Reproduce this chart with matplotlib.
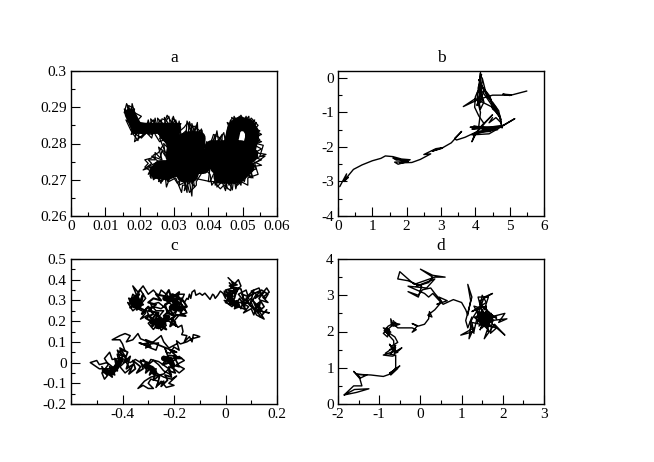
#!/usr/bin/python3
# -*- coding: utf-8 -*-
"""
Four panels of 2D trajectories (a, b, c, d), values read off the picture.
"""
import matplotlib
matplotlib.use('Agg')
import matplotlib.pyplot as plt
from matplotlib.ticker import MultipleLocator

titles = ['a', 'b', 'c', 'd']

# panel a: dense middle of the cloud, then the fuzz around it
a_lobe = [(0.0172,0.2882),(0.0182,0.2862),(0.019,0.2848),(0.0192,0.2842)]
a_neck = [(0.0192,0.2842),(0.0215,0.2842),(0.0245,0.2842),(0.0305,0.2842),(0.0295,0.2815),(0.0272,0.2825),(0.030,0.280)]
a_mass = [(0.030,0.280),(0.0345,0.2815),(0.0372,0.2815),(0.037,0.279),(0.030,0.279),(0.0295,0.2765),(0.040,0.2765),(0.0385,0.2735),
          (0.026,0.2735),(0.0248,0.2722),(0.028,0.2718),(0.032,0.2735),(0.0328,0.2712),(0.035,0.2712),(0.036,0.274),(0.041,0.275),
          (0.041,0.279),(0.0495,0.279),(0.0525,0.2768),(0.0415,0.2765),(0.0425,0.2735),(0.0515,0.2735),(0.0485,0.2708),(0.0435,0.2708),
          (0.045,0.2745),(0.0505,0.276),(0.052,0.279),(0.0527,0.2815),(0.0527,0.2832),(0.0515,0.285),(0.0492,0.2855),(0.0475,0.2842),
          (0.047,0.282),(0.0462,0.279)]
a_fuzz = [(0.0155,0.2895),(0.017,0.2875),(0.0155,0.2885),(0.0162,0.291),(0.0175,0.2885),(0.0178,0.291),(0.0185,0.2885),
          (0.0205,0.2875),(0.019,0.286),(0.0215,0.2855),(0.020,0.284),(0.022,0.2835),(0.0205,0.282),(0.0185,0.2805),
          (0.019,0.283),(0.0175,0.2825),(0.0185,0.285),(0.016,0.2865),(0.0175,0.2835),(0.0205,0.2815),(0.022,0.283),
          (0.0235,0.2815),(0.024,0.2835),(0.0225,0.285),(0.024,0.2865),(0.025,0.2845),(0.026,0.2865),(0.027,0.285),
          (0.0285,0.2875),(0.029,0.285),(0.0305,0.2865),(0.031,0.2845),(0.032,0.2855),(0.0305,0.283),(0.032,0.2825),
          (0.0305,0.281),(0.0335,0.2835),(0.034,0.2815),(0.0345,0.286),(0.0355,0.283),(0.0365,0.285),(0.037,0.2825),
          (0.038,0.284),(0.0385,0.281),(0.0395,0.2785),(0.0375,0.2795),(0.039,0.2765),(0.041,0.281),(0.0415,0.2785),
          (0.0425,0.2835),(0.043,0.2805),(0.0445,0.283),(0.045,0.2805),(0.0455,0.2835),(0.0465,0.2865),(0.047,0.2845),
          (0.0475,0.2875),(0.0485,0.2855),(0.049,0.2875),(0.050,0.285),(0.051,0.2875),(0.0515,0.285),(0.0535,0.2865),
          (0.0525,0.2845),(0.055,0.2835),(0.0535,0.2825),(0.055,0.281),(0.0535,0.2795),(0.0555,0.2785),(0.0535,0.2775),
          (0.0568,0.277),(0.054,0.276),(0.0555,0.2755),(0.053,0.2745),(0.054,0.273),(0.0525,0.2725),(0.0525,0.2705),
          (0.051,0.2715),(0.0505,0.2695),(0.049,0.271),(0.048,0.2675),(0.0475,0.2705),(0.046,0.2685),(0.0455,0.2705),
          (0.045,0.267),(0.044,0.2695),(0.0425,0.268),(0.0425,0.2705),(0.041,0.2685),(0.0405,0.2715),(0.0395,0.2725),
          (0.039,0.2735),(0.0375,0.272),(0.037,0.2735),(0.0365,0.2705),(0.0355,0.2715),(0.0352,0.2655),(0.0345,0.2695),
          (0.033,0.267),(0.0335,0.2695),(0.0315,0.2685),(0.032,0.2715),(0.031,0.2725),(0.030,0.271),(0.0295,0.2725),
          (0.0278,0.268),(0.0275,0.2705),(0.0255,0.2695),(0.026,0.2715),(0.024,0.270),(0.0245,0.2725),(0.0225,0.2715),
          (0.0235,0.2735),(0.021,0.2727),(0.0235,0.2745),(0.0225,0.2755),(0.0245,0.2755),(0.0245,0.2775),(0.026,0.276),
          (0.0265,0.278),(0.0275,0.2765),(0.027,0.280),(0.0285,0.2785),(0.0265,0.2825),(0.0285,0.2815),(0.0258,0.2805),
          (0.0245,0.2825)]
a_fuzz2 = [(0.0163,0.2905),(0.0172,0.2875),(0.0168,0.2905),(0.0185,0.2895),(0.018,0.287),(0.0198,0.2855),(0.0165,0.2875),(0.0172,0.285),
           (0.0182,0.2825),(0.0195,0.2808),(0.0198,0.283),(0.0215,0.2825),(0.0225,0.2865),(0.0235,0.2825),(0.0245,0.287),(0.0255,0.2825),
           (0.0265,0.2868),(0.0275,0.2865),(0.028,0.2878),(0.0295,0.2855),(0.0295,0.287),(0.031,0.2855),(0.0318,0.2835),(0.033,0.2845),
           (0.034,0.2858),(0.0348,0.284),(0.0358,0.2848),(0.0375,0.2835),(0.037,0.2815),(0.039,0.2775),(0.0395,0.2805),(0.0405,0.2795),
           (0.0415,0.2825),(0.0435,0.2815),(0.0445,0.2795),(0.0455,0.282),(0.0462,0.2855),(0.048,0.287),(0.0482,0.284),(0.050,0.2872),
           (0.0508,0.2845),(0.0525,0.287),(0.0545,0.285),(0.0525,0.283),(0.0548,0.2825),(0.054,0.280),(0.056,0.2795),(0.055,0.2765),
           (0.0565,0.2765),(0.0535,0.2745),(0.0545,0.2715),(0.0515,0.2705),(0.0515,0.2685),(0.0495,0.2695),(0.0485,0.2685),(0.0468,0.2695),
           (0.0465,0.267),(0.0445,0.2685),(0.0435,0.2675),(0.0415,0.2695),(0.040,0.2695),(0.0405,0.2735),(0.0385,0.2725),(0.0365,0.2695),
           (0.0365,0.2685),(0.0345,0.2665),(0.034,0.2685),(0.0325,0.2685),(0.0322,0.2665),(0.0305,0.2705),(0.0285,0.2695),(0.028,0.2715),
           (0.0265,0.2695),(0.025,0.2705),(0.0232,0.2705),(0.023,0.2725),(0.0215,0.2735),(0.0225,0.2745),(0.0215,0.2755),(0.0235,0.276),
           (0.024,0.2768),(0.0255,0.2775),(0.0268,0.2795)]
# spikes from inside the cloud out past its edge
a_fuzz3 = [(0.0235,0.2845),(0.0232,0.2868),(0.0255,0.2845),(0.0252,0.287),(0.0275,0.2845),(0.0272,0.2872),(0.029,0.2845),(0.0298,0.2875),
           (0.031,0.284),(0.0315,0.2862),(0.032,0.2825),(0.0335,0.2825),(0.0338,0.2862),(0.035,0.283),(0.0352,0.2855),(0.036,0.283),(0.0368,0.2858),
           (0.037,0.282),(0.0382,0.2835),(0.0375,0.281),(0.0388,0.2815),(0.038,0.279),(0.041,0.2795),(0.042,0.2825),(0.042,0.2795),(0.044,0.2825),
           (0.044,0.2795),(0.046,0.2825),(0.0465,0.2835),(0.0455,0.2858),(0.047,0.285),(0.0468,0.2872),(0.0485,0.286),(0.0495,0.2878),(0.0505,0.286),
           (0.0518,0.2875),(0.052,0.285),(0.054,0.2858),(0.053,0.284),(0.0555,0.2825),(0.053,0.2815),(0.0555,0.2805),(0.0525,0.2795),(0.0545,0.2775),
           (0.052,0.2755),(0.0555,0.274),(0.052,0.2735),(0.053,0.2705),(0.050,0.2725),(0.0495,0.2685),(0.0475,0.2715),(0.047,0.2672),(0.045,0.2715),
           (0.0455,0.2675),(0.0435,0.2715),(0.042,0.2685),(0.042,0.2725),(0.0405,0.2695),(0.0355,0.2705),(0.036,0.268),(0.034,0.2705),(0.0338,0.2665),
           (0.0325,0.271),(0.031,0.269),(0.029,0.272),(0.0282,0.2695),(0.027,0.2715),(0.0262,0.269),(0.025,0.2715),(0.023,0.271),(0.0245,0.2735),
           (0.0222,0.2735),(0.0255,0.275),(0.0235,0.2765),(0.0265,0.2755),(0.0255,0.279),(0.0275,0.2775),(0.0258,0.2815),(0.028,0.2815),(0.0255,0.283),
           (0.0225,0.2825),(0.024,0.2848)]

# panel b: almost a single stroke with short reversals
b_path = [(0.05,-3.15),(0.12,-3.02),(0.25,-2.78),(0.18,-3.0),(0.3,-2.88),(0.2,-2.95),(0.45,-2.65),(0.7,-2.52),(1.0,-2.4),
          (1.25,-2.33),(1.38,-2.26),(1.6,-2.28),(1.85,-2.35),(2.1,-2.37),(1.7,-2.38),(1.6,-2.32),(2.05,-2.42),(1.65,-2.44),
          (1.75,-2.5),(2.0,-2.43),(1.8,-2.46),(2.15,-2.45),(2.4,-2.36),(2.7,-2.2),(2.5,-2.22),(2.85,-2.05),(3.05,-2.02),
          (2.75,-2.12),(3.0,-2.05),(3.3,-1.88),(3.6,-1.55),(3.4,-1.75),(3.45,-1.8),(3.7,-1.72),(4.0,-1.58),(3.9,-1.85),
          (4.05,-1.55),(4.5,-1.07),(4.15,-1.42),(3.85,-1.43),(4.55,-1.42),(3.9,-1.48),(4.7,-1.42),(4.1,-1.55),(3.9,-1.65),
          (4.4,-1.62),(4.75,-1.42),(5.15,-1.18),(4.8,-1.38),(4.3,-1.55),(4.0,-1.62),(4.25,-1.32),(4.1,-1.1),(3.98,-0.85),
          (4.0,-0.55),(4.1,-0.32),(4.15,0.15),(4.12,-0.5),(4.05,-0.8),(4.2,-0.25),(4.1,-0.05),(4.25,-0.35),(4.15,-0.7),
          (4.2,0.0),(4.3,-0.4),(4.45,-0.62),(4.5,-0.9),(4.7,-1.05),(4.78,-1.45),(4.72,-1.15),(4.55,-0.85),(4.4,-0.5),(4.2,-0.25),
          (4.35,-0.55),(4.6,-0.85),(4.75,-1.2),(4.5,-0.85),(4.0,-0.6),(3.65,-0.83),(4.1,-0.62),(4.5,-0.5),(4.85,-0.5),(5.05,-0.49),
          (4.8,-0.47),(5.0,-0.51),(5.5,-0.38)]
b_extra = [(4.6,-1.47),(3.95,-1.4),(4.5,-1.45),(4.1,-1.47),(4.75,-1.38),(4.2,-1.5),(4.65,-1.5),(4.0,-1.58),(4.45,-1.55),(4.1,-1.4),
           (4.15,-1.0),(4.05,-0.6),(4.12,-0.2),(4.18,0.1),(4.08,-0.3),(4.22,-0.65),(4.1,-0.75),(4.17,-0.15),(4.05,-0.45),(4.15,-0.9),
           (4.25,-0.7),(4.13,-0.3),(4.35,-0.6),(4.62,-1.0),(4.5,-0.7),(4.68,-0.95),(4.75,-1.3),(4.6,-1.15),(4.4,-1.3),(4.5,-1.15)]

# panel c: fine scale random walk, right cluster to the lower left
c_path = [(0.01,0.41),(0.03,0.385),(0.02,0.36),(0.05,0.40),(0.06,0.37),(0.04,0.34),(0.01,0.35),(0.03,0.32),(0.0,0.33),
          (0.02,0.295),(-0.005,0.30),(0.025,0.27),(0.045,0.30),(0.06,0.26),(0.07,0.30),(0.05,0.33),(0.08,0.35),(0.09,0.31),
          (0.06,0.29),(0.09,0.27),(0.07,0.24),(0.10,0.26),(0.11,0.23),(0.12,0.27),(0.145,0.245),(0.17,0.24),(0.13,0.25),
          (0.15,0.21),(0.12,0.23),(0.10,0.29),(0.12,0.33),(0.10,0.345),(0.13,0.36),(0.14,0.33),(0.16,0.36),(0.17,0.34),
          (0.145,0.315),(0.165,0.29),(0.14,0.30),(0.12,0.28),(0.10,0.31),(0.08,0.29),(0.05,0.29),(0.03,0.30),(0.05,0.36),
          (0.02,0.34),(0.03,0.28),(0.01,0.30),(0.015,0.33),(-0.005,0.345),
          (0.0,0.31),(-0.01,0.335),(-0.02,0.345),(-0.03,0.325),(-0.04,0.31),(-0.045,0.325),(-0.05,0.33),(-0.06,0.305),(-0.07,0.32),
          (-0.08,0.335),(-0.09,0.325),(-0.10,0.335),(-0.115,0.325),(-0.12,0.35),(-0.13,0.34),(-0.135,0.31),(-0.14,0.33),
          (-0.145,0.305),(-0.15,0.31),(-0.16,0.29),(-0.17,0.30),(-0.16,0.33),(-0.185,0.33),(-0.17,0.28),(-0.155,0.25),(-0.18,0.27),
          (-0.20,0.25),(-0.21,0.28),(-0.23,0.30),(-0.21,0.33),(-0.19,0.32),(-0.2,0.29),(-0.23,0.33),(-0.25,0.35),(-0.26,0.32),
          (-0.28,0.35),(-0.30,0.33),(-0.32,0.37),(-0.34,0.34),(-0.36,0.37),(-0.34,0.31),(-0.36,0.33),(-0.37,0.29),(-0.35,0.27),
          (-0.38,0.29),(-0.36,0.25),(-0.33,0.28),(-0.31,0.31),(-0.33,0.35),(-0.36,0.30),(-0.34,0.26),(-0.31,0.24),(-0.33,0.21),
          (-0.30,0.23),(-0.28,0.21),(-0.30,0.19),(-0.28,0.16),(-0.26,0.19),(-0.25,0.155),(-0.23,0.18),(-0.26,0.22),(-0.24,0.25),
          (-0.27,0.25),(-0.29,0.28),(-0.26,0.29),(-0.23,0.26),(-0.21,0.23),(-0.19,0.25),(-0.21,0.19),(-0.19,0.175),(-0.22,0.20),
          (-0.24,0.20),(-0.27,0.18),(-0.29,0.21),(-0.31,0.26),(-0.28,0.27),(-0.25,0.26),(-0.20,0.31),(-0.17,0.28),(-0.15,0.24),
          (-0.18,0.23),(-0.20,0.20),(-0.185,0.17),(-0.17,0.18),(-0.165,0.15),(-0.17,0.135),(-0.15,0.13),(-0.16,0.10),(-0.14,0.125),
          (-0.13,0.10),(-0.125,0.135),(-0.11,0.13),(-0.10,0.125),(-0.13,0.115),(-0.15,0.10),(-0.175,0.09),(-0.19,0.105),(-0.18,0.06),
          (-0.20,0.075),(-0.215,0.045),(-0.23,0.05),(-0.235,0.07),(-0.22,0.015),(-0.24,0.03),(-0.23,-0.005),(-0.20,0.01),(-0.18,0.03),
          (-0.16,0.01),(-0.19,-0.01),(-0.16,-0.03),(-0.18,-0.05),(-0.20,-0.03),(-0.22,-0.02),(-0.21,-0.06),(-0.24,-0.04),(-0.26,-0.01),
          (-0.28,0.01),(-0.30,-0.01),(-0.32,0.015),(-0.29,-0.03),(-0.27,-0.05),(-0.24,-0.07),(-0.21,-0.08),(-0.19,-0.065),(-0.22,-0.10),
          (-0.20,-0.11),(-0.23,-0.12),(-0.25,-0.09),(-0.27,-0.12),(-0.26,-0.09),(-0.29,-0.08),(-0.30,-0.10),(-0.28,-0.125),(-0.30,-0.125),
          (-0.32,-0.11),(-0.34,-0.125),(-0.315,-0.09),(-0.29,-0.07),(-0.24,-0.055),(-0.22,-0.03),(-0.26,0.005),(-0.29,0.015),
          (-0.31,-0.03),(-0.33,0.0),(-0.35,0.015),(-0.37,0.0),(-0.39,0.01),(-0.37,-0.03),(-0.39,-0.05),(-0.41,-0.02),(-0.38,0.015),
          (-0.40,0.035),(-0.42,0.06),(-0.41,0.02),(-0.44,0.015),(-0.45,0.05),(-0.47,0.02),(-0.455,-0.01),(-0.48,-0.05),(-0.47,-0.08),
          (-0.45,-0.05),(-0.43,-0.06),(-0.44,-0.02),(-0.46,0.0),(-0.49,-0.01),(-0.50,0.01),(-0.525,0.0),(-0.49,-0.03),(-0.44,-0.03),
          (-0.42,0.0),(-0.40,0.03),(-0.41,0.06),(-0.39,0.055),(-0.40,0.09),(-0.41,0.11),(-0.44,0.11),(-0.41,0.13),(-0.39,0.14),
          (-0.37,0.13),(-0.385,0.10),(-0.36,0.11),(-0.34,0.14),(-0.33,0.115),(-0.30,0.10),(-0.31,0.07),(-0.29,0.09),(-0.26,0.095),
          (-0.27,0.06),(-0.30,0.075),(-0.32,0.09),(-0.28,0.10),(-0.25,0.13),(-0.24,0.10),(-0.22,0.07),(-0.19,0.09)]
# scribbles that fill the denser knots of panel c
c_top = [(-0.375,0.31),(-0.36,0.28),(-0.37,0.265),(-0.345,0.295),(-0.355,0.32),(-0.335,0.33),(-0.35,0.30),(-0.33,0.27),(-0.345,0.255),
         (-0.325,0.30),(-0.32,0.33),(-0.33,0.30),(-0.365,0.295),(-0.34,0.285),(-0.36,0.31),(-0.32,0.28),(-0.345,0.27),(-0.31,0.25),
         (-0.325,0.235),(-0.30,0.27),(-0.28,0.235),(-0.31,0.215),(-0.29,0.20),(-0.27,0.235),(-0.25,0.215),(-0.27,0.195),(-0.285,0.175),
         (-0.265,0.205),(-0.245,0.175),(-0.26,0.165),(-0.235,0.20),(-0.225,0.22),(-0.24,0.225),(-0.215,0.255),(-0.20,0.225),(-0.225,0.24),
         (-0.235,0.28),(-0.21,0.30),(-0.19,0.28),(-0.215,0.27),(-0.18,0.25),(-0.195,0.30),(-0.17,0.31),(-0.18,0.27),(-0.16,0.27),
         (-0.175,0.24),(-0.155,0.225),(-0.19,0.23),(-0.21,0.21),(-0.195,0.195),(-0.215,0.175),(-0.205,0.215),(-0.25,0.19),(-0.23,0.16),
         (-0.28,0.19),(-0.26,0.24),(-0.30,0.25),(-0.27,0.28),(-0.30,0.29),(-0.28,0.31),(-0.25,0.30),(-0.27,0.33),(-0.235,0.32),(-0.22,0.35),
         (-0.21,0.31),(-0.18,0.34),(-0.19,0.30),(-0.225,0.295),(-0.205,0.33),(-0.165,0.30),(-0.15,0.27),(-0.17,0.255)]
c_right = [(0.015,0.385),(0.03,0.36),(0.0,0.35),(0.02,0.32),(0.04,0.36),(0.035,0.31),(0.015,0.28),(0.04,0.28),(0.055,0.31),(0.075,0.27),
           (0.065,0.33),(0.085,0.32),(0.11,0.35),(0.095,0.28),(0.115,0.26),(0.135,0.29),(0.125,0.24),(0.15,0.27),(0.13,0.31),(0.15,0.34),
           (0.115,0.31),(0.13,0.34),(0.155,0.31),(0.165,0.33),(0.14,0.35),(0.105,0.33),(0.08,0.31),(0.09,0.29),(0.065,0.28),(0.08,0.255),
           (0.05,0.27),(0.035,0.26),(0.045,0.29),(0.01,0.315),(0.0,0.29),(0.02,0.28),(0.005,0.325),(0.035,0.335),(0.025,0.39),(0.045,0.375),
           (0.015,0.37),(0.06,0.355),(0.07,0.31),(0.1,0.27),(0.12,0.245),(0.14,0.26),(0.11,0.29),(0.135,0.22),(0.16,0.255)]
c_low = [(-0.48,-0.02),(-0.46,-0.06),(-0.47,-0.04),(-0.44,-0.07),(-0.45,-0.02),(-0.42,-0.04),(-0.43,0.02),(-0.41,-0.01),(-0.42,0.04),(-0.39,0.03),
         (-0.41,0.07),(-0.38,0.05),(-0.395,0.0),(-0.37,0.03),(-0.385,-0.03),(-0.36,-0.01),(-0.375,-0.055),(-0.35,-0.03),(-0.36,0.01),(-0.33,-0.02),
         (-0.345,-0.05),(-0.32,-0.03),(-0.33,0.01),(-0.30,0.0),(-0.31,-0.05),(-0.285,-0.02),(-0.295,-0.06),(-0.27,-0.03),(-0.28,-0.085),(-0.255,-0.06),
         (-0.265,-0.11),(-0.24,-0.09),(-0.25,-0.115),(-0.225,-0.085),(-0.235,-0.06),(-0.21,-0.07),(-0.22,-0.04),(-0.195,-0.05),(-0.21,-0.01),(-0.18,-0.02),
         (-0.20,0.03),(-0.17,0.02),(-0.21,0.02),(-0.24,0.015),(-0.215,0.0),(-0.245,-0.01),(-0.22,0.035),(-0.19,0.03),(-0.215,0.06),(-0.19,0.05),
         (-0.31,0.11),(-0.29,0.075),(-0.335,0.095),(-0.31,0.085)]
# black centres of the knots, short strokes
c_knot1 = [(-0.365,0.30),(-0.345,0.31),(-0.335,0.285),(-0.355,0.275)]
c_knot2 = [(-0.285,0.195),(-0.26,0.205),(-0.24,0.19),(-0.265,0.175),(-0.225,0.22)]
c_knot3 = [(-0.235,0.31),(-0.205,0.305),(-0.19,0.285),(-0.21,0.265),(-0.175,0.26)]
c_knot4 = [(-0.24,0.02),(-0.215,0.015),(-0.205,-0.015)]
c_knot5 = [(-0.47,-0.04),(-0.445,-0.05),(-0.425,-0.025),(-0.405,0.015)]
c_knot6 = [(-0.31,-0.015),(-0.285,-0.03),(-0.275,-0.05)]
c_knot7 = [(0.015,0.33),(0.02,0.30),(0.045,0.275)]

# panel d: starts lower left, ends in the knot on the right
d_path = [(-1.85,0.25),(-1.6,0.4),(-1.25,0.42),(-1.55,0.32),(-1.85,0.25),(-1.62,0.5),(-1.42,0.5),(-1.47,0.7),(-1.62,0.9),
          (-1.45,0.72),(-1.3,0.8),(-1.55,0.82),(-1.2,0.8),(-0.9,0.76),(-0.75,0.82),(-0.5,1.05),(-0.75,0.85),(-0.55,0.98),(-0.72,0.8),
          (-0.6,1.0),(-0.6,1.35),(-0.68,1.32),(-0.9,1.35),(-0.65,1.45),(-0.75,1.65),(-0.6,1.4),(-0.45,1.55),(-0.6,1.45),(-0.7,1.6),
          (-0.55,1.7),(-0.62,1.85),(-0.75,1.95),(-0.9,2.1),(-0.75,2.05),(-0.8,1.85),(-0.9,1.95),(-0.7,2.15),(-0.72,2.35),
          (-0.65,2.15),(-0.5,2.2),(-0.7,2.25),(-0.55,2.1),(-0.2,2.1),(-0.1,2.05),(-0.2,1.98),(-0.08,2.15),(-0.2,2.22),(-0.05,2.15),
          (0.1,2.2),(0.2,2.35),(0.22,2.55),(0.28,2.4),(0.18,2.45),(0.35,2.6),(0.5,2.8),(0.4,2.75),(0.65,2.85),(0.45,2.95),
          (0.55,2.75),(0.8,2.88),(1.0,2.8),(1.1,2.6),(1.15,2.45),(1.22,2.85),(1.15,3.3),(1.25,2.95),(1.1,2.3),(1.15,2.1),(1.25,2.4),
          (1.18,1.8),(1.3,2.1),(0.98,1.9),(1.3,2.0),(1.4,2.5),(1.55,2.95),(1.75,3.05),(1.45,2.85),(1.55,2.6),(1.65,2.95),(1.4,2.95),
          (1.55,2.3),(1.45,2.05),(1.65,2.55),(1.75,2.2),(2.05,1.9),(1.8,2.2),(1.55,1.8),(1.7,2.3),(2.1,2.35),(1.9,2.25),
          (2.05,2.5),(1.7,2.4),(1.4,2.3),(1.65,2.15),(1.5,2.6),(1.7,2.25),(1.45,2.45),(1.75,2.45),(1.5,2.2),(1.35,2.6),(1.6,2.7),
          (1.6,2.1),(1.3,2.4),(1.85,2.4),(1.55,2.35),(1.65,2.0),(1.45,2.75),(1.85,2.35)]
d_tail = [(0.5,2.85),(0.35,3.05),(0.25,3.2),(0.05,3.15),(-0.05,3.0),(-0.3,3.1),(-0.05,2.95),(0.03,3.25),(-0.3,3.4),(-0.55,3.45),
          (-0.5,3.65),(-0.3,3.45),(-0.15,3.3),(0.35,3.5),(0.6,3.5),(0.3,3.55),(0.0,3.72),(0.3,3.5),(0.2,3.35),(-0.1,3.25),
          (0.35,3.45),(0.15,3.2),(-0.3,3.25),(0.1,3.05),(0.2,2.95),(0.3,3.05),(0.5,2.8)]
d_knot = [(1.35,2.4),(1.5,2.55),(1.38,2.25),(1.6,2.45),(1.42,2.15),(1.68,2.35),(1.5,2.1),(1.72,2.5),(1.55,2.2),(1.78,2.3),(1.6,2.55),(1.4,2.35),
          (1.65,2.25),(1.48,2.5),(1.7,2.15),(1.58,2.4),(1.45,2.3),(1.62,2.6),(1.52,2.35),(1.75,2.35),(1.55,2.15),(1.42,2.55),(1.68,2.45),(1.5,2.25),
          (1.3,2.7),(1.45,2.65),(1.25,2.55),(1.6,2.8),(1.5,3.0),(1.45,2.7),(1.2,2.25),(1.3,1.95),(1.25,2.25),(1.85,2.1),(1.7,1.95),(1.75,2.3)]
d_stars = [(-0.75,1.5),(-0.6,1.55),(-0.72,1.38),(-0.6,1.62),(-0.68,1.48),(-0.55,1.42),(-0.66,1.55),(-0.85,1.4),(-0.63,1.35),(-0.65,1.75),
           (-0.85,2.0),(-0.72,1.98),(-0.82,2.1),(-0.75,1.9),(-0.88,2.02),(-0.78,2.15),(-0.6,2.25),(-0.7,2.15),(-0.58,2.18),(-0.66,2.3)]

xlims = [(0, 0.06), (0, 6), (-0.6, 0.2), (-2, 3)]
ylims = [(0.26, 0.3), (-4, 0.2), (-0.2, 0.5), (0, 4)]
x_major = [[0, 0.01, 0.02, 0.03, 0.04, 0.05, 0.06], [0, 1, 2, 3, 4, 5, 6],
           [-0.4, -0.2, 0, 0.2], [-2, -1, 0, 1, 2, 3]]
y_major = [[0.26, 0.27, 0.28, 0.29, 0.3], [-4, -3, -2, -1, 0],
           [-0.2, -0.1, 0, 0.1, 0.2, 0.3, 0.4, 0.5], [0, 1, 2, 3, 4]]
x_minor = [0.005, 0.5, 0.1, 0.5]
y_minor = [0.005, 0.5, 0.05, 0.5]

plt.rcParams['font.family'] = ['Liberation Serif', 'DejaVu Serif']
plt.rcParams['axes.linewidth'] = 1.0

def plotPath(ax, pts, lw=0.6):
    ax.plot([p[0] for p in pts], [p[1] for p in pts], color='black', lw=lw,
            solid_joinstyle='round', solid_capstyle='round')

W, H = 654.0, 462.0
boxes = [(71, 71, 277, 216), (338, 71, 544, 216), (71, 259, 277, 404), (338, 259, 544, 404)]

fig = plt.figure(figsize=(6.54, 4.62), dpi=100)
axes = []
for j in range(4):
    l, t, r, b = boxes[j]
    ax1 = fig.add_axes([l/W, 1 - b/H, (r - l)/W, (b - t)/H])
    ax1.set_xlim(xlims[j])
    ax1.set_ylim(ylims[j])
    ax1.set_xticks(x_major[j])
    ax1.set_yticks(y_major[j])
    ax1.set_xticklabels(['%g' % v for v in x_major[j]])
    ax1.set_yticklabels(['%g' % v for v in y_major[j]])
    ax1.xaxis.set_minor_locator(MultipleLocator(x_minor[j]))
    ax1.yaxis.set_minor_locator(MultipleLocator(y_minor[j]))
    ax1.tick_params(which='major', direction='in', length=6.5, width=0.8, labelsize=11, pad=3)
    ax1.tick_params(which='minor', direction='in', length=3.2, width=0.8)
    ax1.set_title(titles[j], fontsize=12.5, pad=6.5)
    axes.append(ax1)

plotPath(axes[0], a_lobe, lw=8)
plotPath(axes[0], a_neck, lw=8)
plotPath(axes[0], a_mass, lw=10)
plotPath(axes[0], a_fuzz, lw=0.9)
plotPath(axes[0], a_fuzz2, lw=0.9)
plotPath(axes[0], a_fuzz3, lw=0.9)
plotPath(axes[1], b_path, lw=1.0)
plotPath(axes[1], b_extra, lw=1.0)
plotPath(axes[2], c_path, lw=1.1)
plotPath(axes[2], c_top, lw=1.5)
plotPath(axes[2], c_right, lw=1.2)
plotPath(axes[2], c_low, lw=1.3)
for knot in [c_knot1, c_knot2, c_knot3, c_knot4, c_knot5, c_knot6, c_knot7]:
    plotPath(axes[2], knot, lw=4)
plotPath(axes[3], d_path, lw=1.0)
plotPath(axes[3], d_tail, lw=1.0)
plotPath(axes[3], d_knot, lw=1.0)
plotPath(axes[3], d_stars, lw=1.0)

fig.savefig('out.png', dpi=100)
